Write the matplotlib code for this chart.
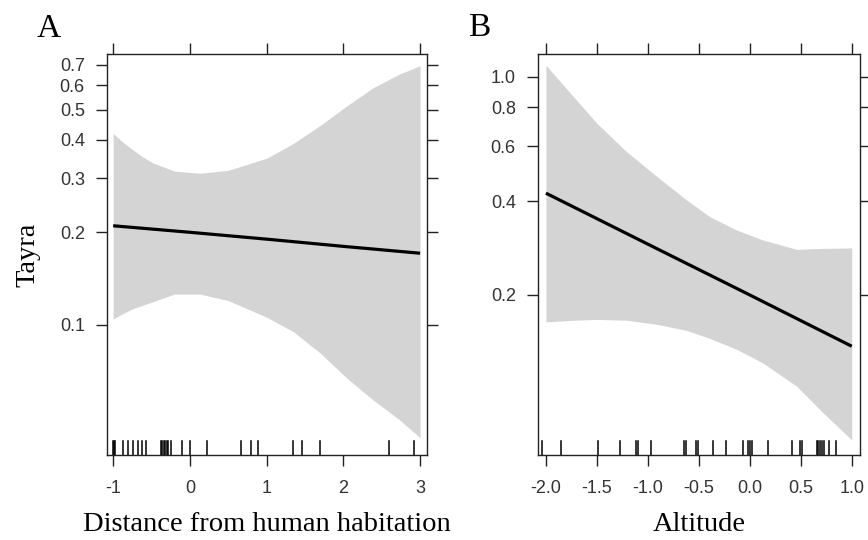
import matplotlib
matplotlib.use("Agg")
import matplotlib.pyplot as plt
import matplotlib.transforms as mtransforms

plt.rcParams['axes.unicode_minus'] = False

# Panel A: distance from human habitation
dist_x = [-1.0, -0.87, -0.74, -0.61, -0.48, -0.2, 0.13, 0.5, 1.0, 1.35, 1.7, 2.05, 2.39, 2.74, 3.0]
dist_upper = [0.419, 0.392, 0.370, 0.351, 0.336, 0.316, 0.311, 0.318, 0.348, 0.389, 0.445, 0.516, 0.590, 0.655, 0.695]
dist_lower = [0.1045, 0.109, 0.113, 0.116, 0.119, 0.126, 0.126, 0.120, 0.106, 0.095, 0.081, 0.067, 0.057, 0.049, 0.043]
dist_fit_x = [-1, 0, 1, 2, 3]
dist_fit = [0.210, 0.200, 0.190, 0.180, 0.171]
dist_rug = [-1.0, -0.99, -0.97, -0.87, -0.80, -0.74, -0.68, -0.63, -0.57,
            -0.38, -0.36, -0.34, -0.32, -0.30, -0.28, -0.24, -0.10, 0.0,
            0.22, 0.67, 0.79, 0.89, 1.35, 1.46, 1.69, 2.59, 2.92]
dist_xticks = [-1, 0, 1, 2, 3]
dist_yticks = [0.1, 0.2, 0.3, 0.4, 0.5, 0.6, 0.7]

# Panel B: altitude
alt_x = [-2.0, -1.73, -1.5, -1.21, -0.91, -0.62, -0.39, -0.13, 0.13, 0.46, 0.7, 1.0]
alt_upper = [1.09, 0.864, 0.710, 0.576, 0.479, 0.403, 0.356, 0.323, 0.300, 0.280, 0.282, 0.283]
alt_lower = [0.164, 0.166, 0.167, 0.166, 0.161, 0.154, 0.145, 0.134, 0.121, 0.102, 0.085, 0.0686]
alt_fit_x = [-2, -1, 0, 1]
alt_fit = [0.424, 0.291, 0.200, 0.137]
alt_rug = [-2.04, -1.85, -1.49, -1.27, -1.12, -1.10, -0.97, -0.65, -0.63,
           -0.53, -0.51, -0.36, -0.23, -0.07, -0.02, 0.0, 0.02, 0.18, 0.41,
           0.49, 0.51, 0.66, 0.67, 0.69, 0.71, 0.73, 0.78, 0.85]
alt_xticks = [-2.0, -1.5, -1.0, -0.5, 0.0, 0.5, 1.0]
alt_yticks = [0.2, 0.4, 0.6, 0.8, 1.0]

band_col = '#d4d4d4'
axis_col = '#222222'
serif = ['Liberation Serif', 'DejaVu Serif']
sans = ['Liberation Sans', 'DejaVu Sans']

fig = plt.figure(figsize=(8.68, 5.40), dpi=100)
axA = fig.add_axes([107/868, 1 - 455/540, 320/868, 401/540])
axB = fig.add_axes([538/868, 1 - 455/540, 322/868, 401/540])


def panel(ax, x, lo, hi, fx, fy, rug, xt, xtl, yt, ytl, xlim, ylim):
    ax.set_yscale('log')
    ax.fill_between(x, lo, hi, color=band_col, linewidth=0)
    ax.plot(fx, fy, color='black', linewidth=2.3, solid_capstyle='butt')
    trans = mtransforms.blended_transform_factory(ax.transData, ax.transAxes)
    for r in rug:
        ax.plot([r, r], [0, 0.036], color='black', linewidth=1.1, transform=trans)
    ax.set_xlim(*xlim)
    ax.set_ylim(*ylim)
    ax.set_xticks(xt)
    ax.set_xticklabels(xtl)
    ax.set_yticks(yt)
    ax.set_yticklabels(ytl)
    ax.minorticks_off()
    ax.tick_params(direction='out', length=8, width=1.0, color=axis_col,
                   top=True, right=True, labeltop=False, labelright=False,
                   labelsize=13, labelcolor='#333333')
    ax.tick_params(axis='x', pad=10)
    ax.tick_params(axis='y', pad=8)
    for lab in ax.get_xticklabels() + ax.get_yticklabels():
        lab.set_family(sans)
    for s in ax.spines.values():
        s.set_color(axis_col)
        s.set_linewidth(1.0)


panel(axA, dist_x, dist_lower, dist_upper, dist_fit_x, dist_fit, dist_rug,
      dist_xticks, [str(v) for v in dist_xticks],
      dist_yticks, [str(v) for v in dist_yticks],
      (-1.08, 3.09), (0.0378, 0.759))
panel(axB, alt_x, alt_lower, alt_upper, alt_fit_x, alt_fit, alt_rug,
      alt_xticks, ['%.1f' % v for v in alt_xticks],
      alt_yticks, ['%.1f' % v for v in alt_yticks],
      (-2.078, 1.081), (0.0614, 1.184))

axA.set_xlabel('Distance from human habitation', family=serif, fontsize=20.5, labelpad=11)
axB.set_xlabel('Altitude', family=serif, fontsize=20.5, labelpad=11)
axA.set_ylabel('Tayra', family=serif, fontsize=20.5, labelpad=14)

fig.text(37/868, 1 - 37/540, 'A', family=serif, fontsize=24, ha='left', va='baseline')
fig.text(468/868, 1 - 36/540, 'B', family=serif, fontsize=24, ha='left', va='baseline')

fig.savefig('out.png', dpi=100)
